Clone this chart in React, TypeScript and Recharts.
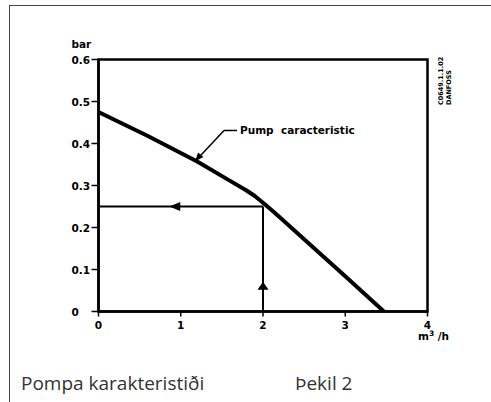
import React from 'react';
import {
  ComposedChart,
  Line,
  XAxis,
  YAxis,
  ReferenceArea,
  ReferenceDot,
  ReferenceLine,
} from 'recharts';

// Pump characteristic curve
const flow = [0, 0.6, 1.2, 1.6, 1.8, 1.9, 2, 2.1, 2.2, 2.5, 3, 3.47];
const pressure = [0.475, 0.418, 0.357, 0.311, 0.288, 0.275, 0.259, 0.242, 0.225, 0.172, 0.084, 0];

// Operating point lines
const opFlow = 2;
const opPressure = 0.25;

// Axis ticks
const xTicks = [0, 1, 2, 3, 4];
const yTicks = [0, 0.1, 0.2, 0.3, 0.4, 0.5, 0.6];

// Texts
const curveLabel = 'Pump  caracteristic';
const yUnit = 'bar';
const captionLeft = 'Pompa karakteristiði';
const captionRight = 'Þekil 2';
const codeLine1 = 'C0649.1.1.02';
const codeLine2 = 'DANFOSS';

const curveData = flow.map((x, i) => ({ x, y: pressure[i] }));
const hLine = [
  { x: 0, y: opPressure },
  { x: opFlow, y: opPressure },
];
const vLine = [
  { x: opFlow, y: 0 },
  { x: opFlow, y: opPressure },
];

const FONT = '"DejaVu Sans", sans-serif';

const YTick = (props: any) => {
  const { x, y, payload } = props;
  const v = payload.value;
  const label = v === 0 ? '0' : v.toFixed(1);
  return (
    <g>
      <text
        x={x - 18}
        y={y}
        dy={4}
        textAnchor="start"
        fontFamily={FONT}
        fontWeight="bold"
        fontSize={10.5}
        fill="#000"
      >
        {label}
      </text>
      {v === 0.6 && (
        <text
          x={x - 18}
          y={y - 16}
          dy={4}
          textAnchor="start"
          fontFamily={FONT}
          fontWeight="bold"
          fontSize={10.5}
          fill="#000"
        >
          {yUnit}
        </text>
      )}
    </g>
  );
};

const XTick = (props: any) => {
  const { x, y, payload } = props;
  const v = payload.value;
  return (
    <g>
      <text
        x={x}
        y={y}
        dy={10}
        textAnchor="middle"
        fontFamily={FONT}
        fontWeight="bold"
        fontSize={10.5}
        fill="#000"
      >
        {String(v)}
      </text>
      {v === 4 && (
        <text
          x={x + 6}
          y={y + 21}
          textAnchor="middle"
          fontFamily={FONT}
          fontWeight="bold"
          fontSize={10.5}
          fill="#000"
        >
          m<tspan dy={-4} fontSize={7.5}>3</tspan>
          <tspan dy={4}> /h</tspan>
        </text>
      )}
    </g>
  );
};

const LeftArrow = (props: any) => {
  const { cx, cy } = props;
  return <path d={`M${cx},${cy} L${cx + 11},${cy - 4.5} L${cx + 11},${cy + 4.5} Z`} fill="#000" />;
};

const UpArrow = (props: any) => {
  const { cx, cy } = props;
  return <path d={`M${cx},${cy} L${cx - 5.5},${cy + 8} L${cx + 5.5},${cy + 8} Z`} fill="#000" />;
};

const LeaderArrow = (props: any) => {
  const { cx, cy } = props;
  return (
    <g transform={`translate(${cx},${cy}) rotate(130)`}>
      <path d="M0,0 L-9,-3.5 L-9,3.5 Z" fill="#000" />
    </g>
  );
};

const CurveLabel = (props: any) => {
  const { cx, cy } = props;
  return (
    <text
      x={cx}
      y={cy}
      dy={4}
      fontFamily={FONT}
      fontWeight="bold"
      fontSize={10.5}
      fill="#000"
      style={{ whiteSpace: 'pre' }}
    >
      {curveLabel}
    </text>
  );
};

export default function App() {
  return (
    <div style={{ position: 'absolute', left: 0, top: 0, width: 491, height: 402, background: '#fff' }}>
      <div style={{ position: 'absolute', left: 9, top: 5, width: 482, height: 1, background: '#444' }} />
      <div style={{ position: 'absolute', left: 9, top: 5, width: 1, height: 397, background: '#444' }} />
      <ComposedChart
        width={491}
        height={402}
        margin={{ top: 59.5, right: 63.5, bottom: 60.5, left: 0 }}
        style={{ position: 'absolute', left: 0, top: 0 }}
      >
        <XAxis
          dataKey="x"
          type="number"
          domain={[0, 4]}
          ticks={xTicks}
          allowDataOverflow
          height={30}
          tickSize={5}
          tick={<XTick />}
          axisLine={{ stroke: '#000', strokeWidth: 2.5 }}
          tickLine={{ stroke: '#000', strokeWidth: 1.5 }}
        />
        <YAxis
          dataKey="y"
          type="number"
          domain={[0, 0.6]}
          ticks={yTicks}
          allowDataOverflow
          width={98.5}
          tickSize={7}
          tick={<YTick />}
          axisLine={{ stroke: '#000', strokeWidth: 2.5 }}
          tickLine={{ stroke: '#000', strokeWidth: 1.5 }}
        />
        <ReferenceArea x1={0} x2={4} y1={0} y2={0.6} fill="none" stroke="#000" strokeWidth={2.5} />
        <Line
          data={hLine}
          dataKey="y"
          type="linear"
          stroke="#000"
          strokeWidth={2}
          dot={false}
          activeDot={false}
          isAnimationActive={false}
        />
        <Line
          data={vLine}
          dataKey="y"
          type="linear"
          stroke="#000"
          strokeWidth={2}
          dot={false}
          activeDot={false}
          isAnimationActive={false}
        />
        <Line
          data={curveData}
          dataKey="y"
          type="linear"
          stroke="#000"
          strokeWidth={4}
          strokeLinejoin="round"
          dot={false}
          activeDot={false}
          isAnimationActive={false}
        />
        <ReferenceDot x={0.86} y={opPressure} shape={<LeftArrow />} />
        <ReferenceDot x={opFlow} y={0.071} shape={<UpArrow />} />
        <ReferenceLine
          segment={[
            { x: 1.684, y: 0.431 },
            { x: 1.526, y: 0.431 },
          ]}
          stroke="#000"
          strokeWidth={1.5}
        />
        <ReferenceLine
          segment={[
            { x: 1.526, y: 0.431 },
            { x: 1.173, y: 0.357 },
          ]}
          stroke="#000"
          strokeWidth={1.5}
        />
        <ReferenceDot x={1.173} y={0.357} shape={<LeaderArrow />} />
        <ReferenceDot x={1.72} y={0.431} shape={<CurveLabel />} />
      </ComposedChart>
      <svg
        width={491}
        height={402}
        style={{ position: 'absolute', left: 0, top: 0, pointerEvents: 'none' }}
      >
        <text
          transform="translate(443,105) rotate(-90)"
          fontFamily={FONT}
          fontWeight="bold"
          fontSize={6.5}
          fill="#000"
        >
          {codeLine1}
        </text>
        <text
          transform="translate(451,105) rotate(-90)"
          fontFamily={FONT}
          fontWeight="bold"
          fontSize={6.5}
          fill="#000"
        >
          {codeLine2}
        </text>
        <text x={21} y={390} fontFamily='"Open Sans", sans-serif' fontSize={19} fill="#333">
          {captionLeft}
        </text>
        <text x={295} y={390} fontFamily='"Open Sans", sans-serif' fontSize={19} fill="#333">
          {captionRight}
        </text>
      </svg>
    </div>
  );
}
